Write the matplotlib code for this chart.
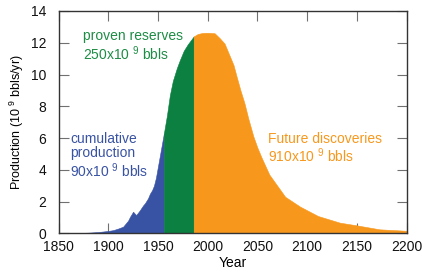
import matplotlib
matplotlib.use("Agg")
import matplotlib.pyplot as plt
import numpy as np

plt.rcParams['font.family'] = ['Liberation Sans', 'DejaVu Sans']
plt.rcParams['mathtext.default'] = 'regular'

years = [1860, 1870, 1880, 1890, 1900, 1905, 1910, 1915, 1920, 1922, 1925, 1928, 1930,
         1932, 1935, 1937, 1940, 1942, 1944, 1946, 1948, 1950, 1952, 1954, 1956, 1959,
         1962, 1965, 1969, 1972, 1976, 1980, 1986, 1990, 1995, 2000, 2007, 2012, 2017,
         2022, 2026, 2029, 2033, 2037, 2041, 2046, 2050, 2054, 2062, 2070, 2078, 2093,
         2111, 2133, 2150, 2173, 2200]
production = [0, 0.02, 0.04, 0.08, 0.15, 0.2, 0.3, 0.42, 0.8, 1.05, 1.36, 1.15, 1.3,
              1.47, 1.75, 1.9, 2.2, 2.5, 2.7, 3.0, 3.5, 4.2, 4.9, 5.6, 6.3, 7.4,
              8.7, 9.6, 10.4, 10.9, 11.5, 11.9, 12.4, 12.55, 12.62, 12.63, 12.6, 12.3, 11.95,
              11.2, 10.6, 9.9, 9.0, 8.2, 7.2, 6.1, 5.4, 4.8, 3.7, 3.0, 2.3, 1.68,
              1.09, 0.67, 0.5, 0.25, 0.16]
boundaries = [1956, 1986]
colors = ['#3953a4', '#0b8040', '#f7981d']
text_colors = ['#3953a4', '#1d8c45', '#f7981d']

x = np.array(years, dtype=float)
y = np.array(production, dtype=float)
xx = np.union1d(x, boundaries)
yy = np.interp(xx, x, y)

fig = plt.figure(figsize=(4.23, 2.75), dpi=100)
ax = fig.add_axes([0.1383, 0.1516, 0.8227, 0.8084])

m1 = xx <= boundaries[0]
m2 = (xx >= boundaries[0]) & (xx <= boundaries[1])
m3 = xx >= boundaries[1]
for m, c in zip([m1, m2, m3], colors):
    ax.fill_between(xx[m], 0, yy[m], facecolor=c, edgecolor=c, lw=0.4, zorder=2)

ax.set_xlim(1850, 2200)
ax.set_ylim(0, 14)
ax.set_xticks(np.arange(1850, 2201, 50))
ax.set_yticks(np.arange(0, 15, 2))
ax.tick_params(direction='in', length=7, width=0.8, color='#707070',
               top=True, right=True, labelsize=10, labelcolor='#111111')
ax.tick_params(axis='x', pad=5)
ax.tick_params(axis='y', pad=9)
for s in ax.spines.values():
    s.set_color('#333333')
    s.set_linewidth(1.0)
    s.set_zorder(3)

ax.set_xlabel('Year', fontsize=10, labelpad=1)
ax.set_ylabel('Production (10 $^{9}$ bbls/yr)', fontsize=9, labelpad=3)

ax.text(1862, 6.4, 'cumulative\nproduction\n90x10 $^{9}$ bbls', color=text_colors[0],
        fontsize=10, va='top', ha='left', linespacing=1.05)
ax.text(1875, 12.85, 'proven reserves\n250x10 $^{9}$ bbls', color=text_colors[1],
        fontsize=10, va='top', ha='left', linespacing=1.05)
ax.text(2061, 6.4, 'Future discoveries\n910x10 $^{9}$ bbls', color=text_colors[2],
        fontsize=10, va='top', ha='left', linespacing=1.05)

fig.savefig('out.png', dpi=100)
